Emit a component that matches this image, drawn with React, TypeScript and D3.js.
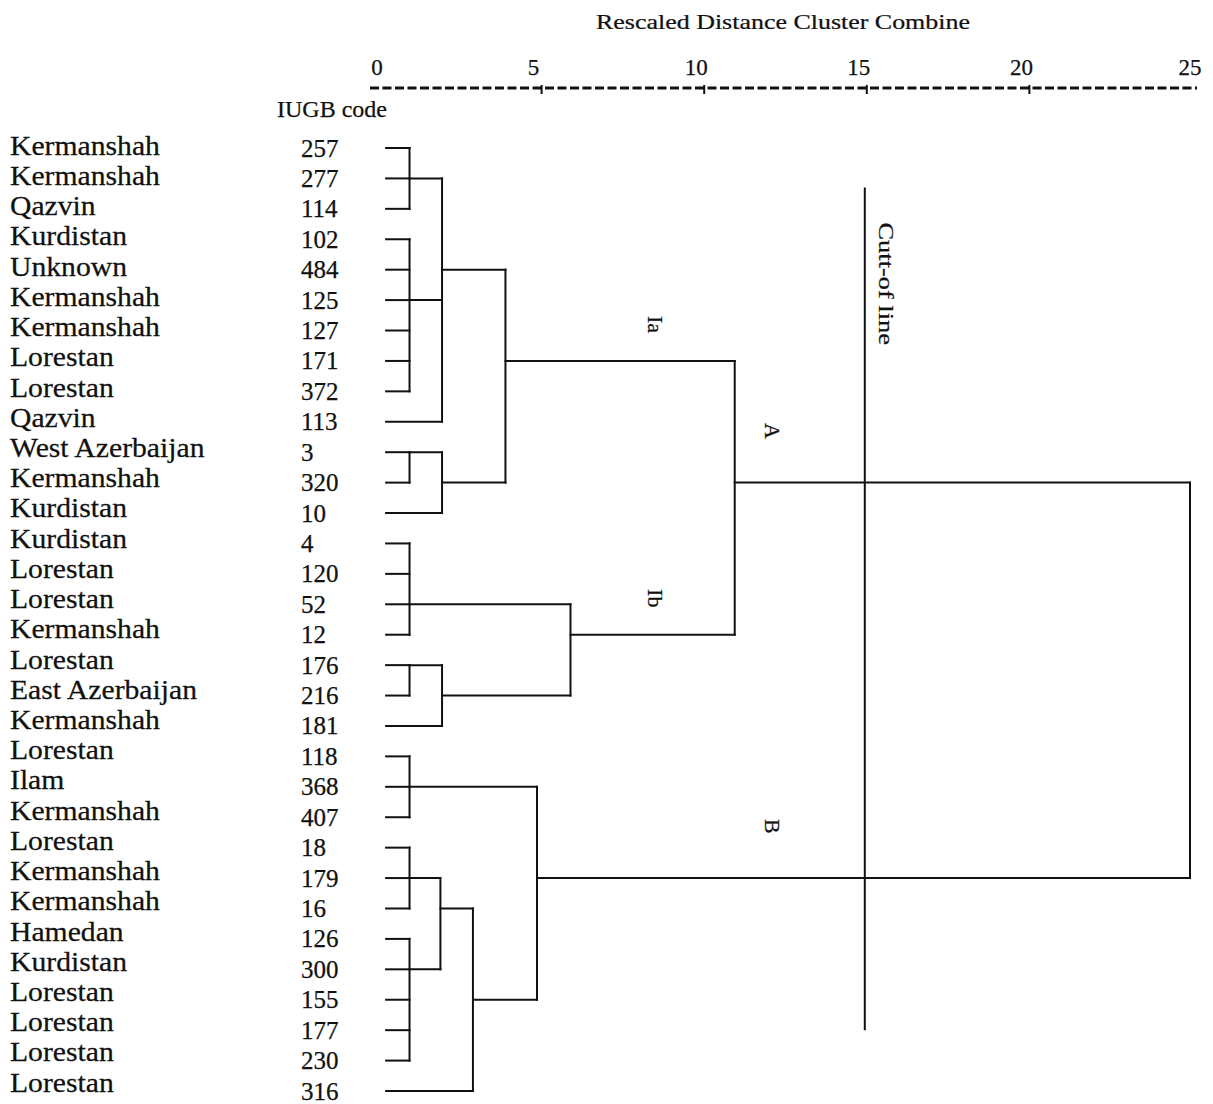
import React, { useEffect, useRef } from 'react';
import * as d3 from 'd3';

// leaf order, top to bottom
const provinces = [
  'Kermanshah', 'Kermanshah', 'Qazvin', 'Kurdistan', 'Unknown', 'Kermanshah', 'Kermanshah', 'Lorestan',
  'Lorestan', 'Qazvin', 'West Azerbaijan', 'Kermanshah', 'Kurdistan', 'Kurdistan', 'Lorestan', 'Lorestan',
  'Kermanshah', 'Lorestan', 'East Azerbaijan', 'Kermanshah', 'Lorestan', 'Ilam', 'Kermanshah', 'Lorestan',
  'Kermanshah', 'Kermanshah', 'Hamedan', 'Kurdistan', 'Lorestan', 'Lorestan', 'Lorestan', 'Lorestan',
];
const codes = [
  '257', '277', '114', '102', '484', '125', '127', '171', '372', '113', '3', '320', '10', '4', '120', '52',
  '12', '176', '216', '181', '118', '368', '407', '18', '179', '16', '126', '300', '155', '177', '230', '316',
];

// merges: [id, parts (leaf index or cluster id), rescaled distance, row of the outgoing line]
const merges: [string, (number | string)[], number, number][] = [
  ['a1', [0, 1, 2], 1, 1],
  ['a2', [3, 4, 5, 6, 7, 8], 1, 5],
  ['a3', ['a1', 'a2', 9], 2, 4],
  ['a4', [10, 11], 1, 10],
  ['a5', ['a4', 12], 2, 11],
  ['Ia', ['a3', 'a5'], 3.95, 7],
  ['b1', [13, 14, 15, 16], 1, 15],
  ['b2', [17, 18], 1, 17],
  ['b3', ['b2', 19], 2, 18],
  ['Ib', ['b1', 'b3'], 5.95, 16],
  ['A', ['Ia', 'Ib'], 11, 11],
  ['c1', [20, 21, 22], 1, 21],
  ['c2', [23, 24, 25], 1, 24],
  ['c3', [26, 27, 28, 29, 30], 1, 27],
  ['c4', ['c2', 'c3'], 1.95, 25],
  ['c5', ['c4', 31], 2.95, 28],
  ['B', ['c1', 'c5'], 4.92, 24],
  ['root', ['A', 'B'], 25, 17],
];

const leafStart = 0.28;
const cutOff = 15;
const axisTicks = [0, 5, 10, 15, 20, 25];

const groupLabels = ['Ia', 'Ib', 'A', 'B'];
const groupLabelDist = [8.55, 8.55, 12.15, 12.15];
const groupLabelRow = [5.8, 14.8, 9.3, 22.3];

const FONT = '"Liberation Serif", "Times New Roman", serif';
const INK = '#111';

const App = () => {
  const ref = useRef<SVGSVGElement | null>(null);

  useEffect(() => {
    if (!ref.current) return;
    const svg = d3.select(ref.current);
    svg.selectAll('*').remove();

    const x = d3.scaleLinear().domain([0, 25]).range([377, 1190]);
    const y = d3.scaleLinear().domain([0, codes.length - 1]).range([148, 1091]);
    const nameY = d3.scaleLinear().domain([0, codes.length - 1]).range([145, 1082]);

    // build the tree
    const nodes = new Map<string, any>();
    merges.forEach(([id, parts, dist, row]) => {
      nodes.set(id, {
        name: id,
        dist,
        row,
        children: parts.map(p =>
          typeof p === 'number' ? { name: codes[p], dist: leafStart, row: p } : nodes.get(p)
        ),
      });
    });
    const root = d3.hierarchy(nodes.get('root'));

    const txt = (sel: any, size: number) =>
      sel.style('font-family', FONT)
        .style('font-size', `${size}px`)
        .attr('fill', INK)
        .attr('stroke', INK)
        .attr('stroke-width', 0.25);

    // title and axis
    txt(svg.append('text')
      .attr('transform', 'translate(783,29) scale(1.18,1)')
      .attr('text-anchor', 'middle')
      .text('Rescaled Distance Cluster Combine'), 22);

    svg.append('line')
      .attr('x1', x(0) - 7).attr('x2', x(25) + 7)
      .attr('y1', 88).attr('y2', 88)
      .attr('stroke', INK)
      .attr('stroke-width', 3)
      .attr('stroke-dasharray', '9 3.5');

    svg.selectAll('.tick')
      .data(axisTicks.slice(1, -1))
      .enter()
      .append('line')
      .attr('x1', d => x(d) + 2).attr('x2', d => x(d) + 2)
      .attr('y1', 85).attr('y2', 94)
      .attr('stroke', INK)
      .attr('stroke-width', 2);

    txt(svg.selectAll('.tickLabel')
      .data(axisTicks)
      .enter()
      .append('text')
      .attr('x', d => x(d) - (d === 0 || d === 25 ? 0 : 6))
      .attr('y', 75)
      .attr('text-anchor', 'middle')
      .text(d => d), 23);

    txt(svg.append('text')
      .attr('x', 277).attr('y', 117)
      .text('IUGB code'), 24);

    // leaf labels
    txt(svg.selectAll('.prov')
      .data(provinces)
      .enter()
      .append('text')
      .attr('transform', (d, i) => `translate(10,${nameY(i)}) scale(1.06,1)`)
      .attr('dominant-baseline', 'central')
      .text(d => d), 28);

    txt(svg.selectAll('.code')
      .data(codes)
      .enter()
      .append('text')
      .attr('x', 301)
      .attr('y', (d, i) => y(i))
      .attr('dominant-baseline', 'central')
      .text(d => d), 25);

    // dendrogram links
    const g = svg.append('g')
      .attr('stroke', INK)
      .attr('stroke-width', 2)
      .attr('fill', 'none')
      .attr('stroke-linecap', 'square');

    root.descendants().filter(n => n.children).forEach(n => {
      const kids = n.children!;
      const rows = kids.map(k => k.data.row);
      g.append('line')
        .attr('x1', x(n.data.dist)).attr('x2', x(n.data.dist))
        .attr('y1', y(d3.min(rows)!)).attr('y2', y(d3.max(rows)!));
      kids.forEach(k => {
        g.append('line')
          .attr('x1', x(k.data.dist)).attr('x2', x(n.data.dist))
          .attr('y1', y(k.data.row)).attr('y2', y(k.data.row));
      });
    });

    // cut-off line
    svg.append('line')
      .attr('x1', x(cutOff)).attr('x2', x(cutOff))
      .attr('y1', y(1.3)).attr('y2', y(29))
      .attr('stroke', INK)
      .attr('stroke-width', 2);

    txt(svg.append('text')
      .attr('transform', `translate(${x(cutOff) + 14},${y(2.45)}) rotate(90) scale(1.2,1)`)
      .text('Cutt-of line'), 22);

    txt(svg.selectAll('.group')
      .data(groupLabels)
      .enter()
      .append('text')
      .attr('transform', (d, i) => `translate(${x(groupLabelDist[i])},${y(groupLabelRow[i])}) rotate(90)`)
      .attr('text-anchor', 'middle')
      .attr('dominant-baseline', 'central')
      .text(d => d), 22);
  }, []);

  return (
    <svg
      ref={ref}
      width={1213}
      height={1104}
      style={{ position: 'absolute', left: 0, top: 0, background: '#fff' }}
    />
  );
};

export default App;
